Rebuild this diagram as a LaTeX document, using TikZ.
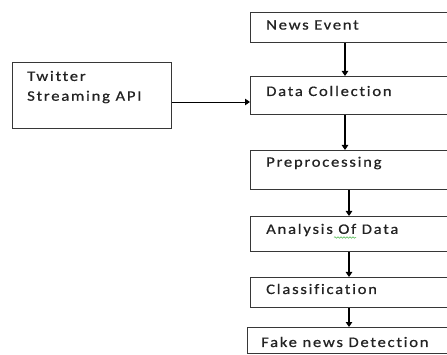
\documentclass[tikz,border=0pt]{standalone}
\usepackage{fontspec}
\setmainfont[FakeStretch=1.15, LetterSpace=12, Ligatures=NoCommon, FakeBold=0.6]{Carlito}
\usetikzlibrary{arrows.meta,decorations.pathmorphing}
\definecolor{inkgray}{RGB}{35,35,35}
\definecolor{framegray}{RGB}{55,55,55}
\tikzset{
  x=1pt, y=-1pt,
  box/.style={draw=framegray, line width=1.3pt, rectangle, inner sep=0pt},
  lbl/.style={anchor=west, inner sep=0pt, text=inkgray, font=\fontsize{14.5}{16}\selectfont},
  arr/.style={draw=black, line width=1.1pt, -{Triangle[length=5pt,width=6.5pt]}},
}
\begin{document}
\begin{tikzpicture}
\useasboundingbox (0,0) rectangle (447,355);
\clip (0,0) rectangle (447,355);
\fill[white] (0,0) rectangle (447,355);

% process boxes (they run past the right edge)
\node[box, minimum width=210pt, minimum height=30pt, anchor=north west] (news) at (250,12) {};
\node[box, minimum width=210pt, minimum height=38pt, anchor=north west] (dc) at (250,76) {};
\node[box, minimum width=210pt, minimum height=39pt, anchor=north west] (pre) at (250,150) {};
\node[box, minimum width=210pt, minimum height=35pt, anchor=north west] (ana) at (250,216) {};
\node[box, minimum width=210pt, minimum height=30pt, anchor=north west] (cls) at (250,277) {};
\node[box, minimum width=213pt, minimum height=26pt, anchor=north west] (fake) at (247,327) {};
\node[box, minimum width=159pt, minimum height=66pt, anchor=north west] (tw) at (12,62) {};

% box texts
\node[lbl] (tnews) at (266,25) {News Event};
\node[lbl] (tdc) at (266,91) {Data Collection};
\node[lbl] (tpre) at (266,163) {Preprocessing};
\node[lbl] (tana) at (266,230) {Analysis Of Data};
\node[lbl] (tcls) at (266,289) {Classification};
\node[lbl] (tfake) at (261,342) {Fake news Detection};
\node[lbl] (ttw1) at (27,76) {Twitter};
\node[lbl] (ttw2) at (27,97) {Streaming API};

% spell-check squiggle under "Of"
\coordinate (sq1) at (334,237.5);
\coordinate (sq2) at (356,237.5);
\draw[green!60!black!70, line width=0.5pt, decorate,
      decoration={snake, amplitude=0.8pt, segment length=3pt}] (sq1) -- (sq2);

% connectors
\coordinate (colA) at (345,0);
\coordinate (colB) at (349,0);
\draw[arr] (news.south -| colA) -- (dc.north -| colA);
\draw[arr] (dc.south -| colA) -- (pre.north -| colA);
\draw[arr] (pre.south -| colB) -- (ana.north -| colB);
\draw[arr] (ana.south -| colB) -- (cls.north -| colB);
\draw[arr] (cls.south -| colB) -- (fake.north -| colB);
\coordinate (twy) at (0,102);
\draw[arr, line width=0.9pt] (tw.east |- twy) -- (dc.west |- twy);
\end{tikzpicture}
\end{document}
